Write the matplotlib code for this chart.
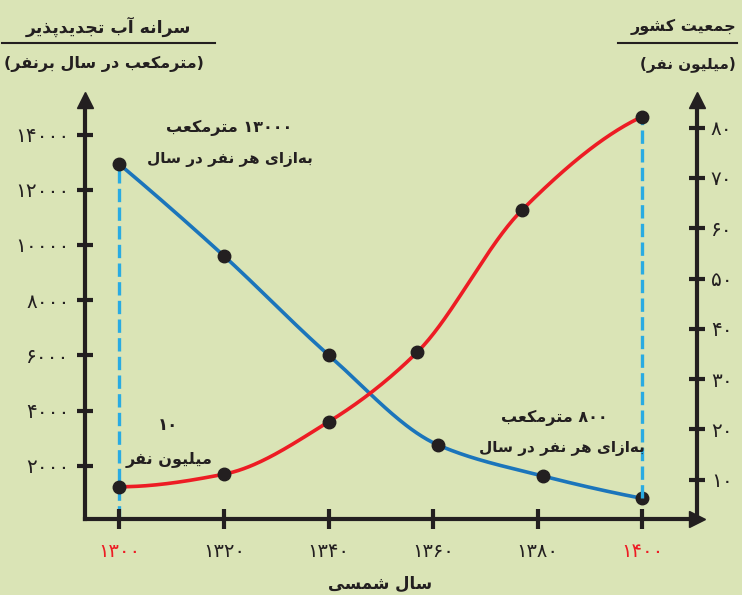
import re
import numpy as np
import matplotlib
matplotlib.use("Agg")
from matplotlib import pyplot as plt
from matplotlib.lines import Line2D

# data
blue_years = [1300, 1320, 1340, 1361, 1381, 1400]
water_per_capita = [12920, 9600, 6015, 2750, 1630, 820]      # m3 per person per year
red_years = [1300, 1320, 1340, 1357, 1377, 1400]
population = [8.6, 11.1, 21.5, 35.4, 63.6, 82.2]             # million people

x_ticks = [1300, 1320, 1340, 1360, 1380, 1400]
left_ticks = [2000, 4000, 6000, 8000, 10000, 12000, 14000]
right_ticks = [10, 20, 30, 40, 50, 60, 70, 80]

BG = '#dae4b6'
INK = '#231f20'
BLUE = '#1b75bb'
RED = '#ed1c24'
CYAN = '#29abe2'

# minimal persian shaping (isolated, final, initial, medial)
FORMS = {
    '\u0622': (0xFE81, 0xFE82, None, None),
    '\u0627': (0xFE8D, 0xFE8E, None, None),
    '\u0628': (0xFE8F, 0xFE90, 0xFE91, 0xFE92),
    '\u067E': (0xFB56, 0xFB57, 0xFB58, 0xFB59),
    '\u062A': (0xFE95, 0xFE96, 0xFE97, 0xFE98),
    '\u062C': (0xFE9D, 0xFE9E, 0xFE9F, 0xFEA0),
    '\u062F': (0xFEA9, 0xFEAA, None, None),
    '\u0630': (0xFEAB, 0xFEAC, None, None),
    '\u0631': (0xFEAD, 0xFEAE, None, None),
    '\u0632': (0xFEAF, 0xFEB0, None, None),
    '\u0633': (0xFEB1, 0xFEB2, 0xFEB3, 0xFEB4),
    '\u0634': (0xFEB5, 0xFEB6, 0xFEB7, 0xFEB8),
    '\u0639': (0xFEC9, 0xFECA, 0xFECB, 0xFECC),
    '\u0641': (0xFED1, 0xFED2, 0xFED3, 0xFED4),
    '\u06A9': (0xFB8E, 0xFB8F, 0xFB90, 0xFB91),
    '\u0644': (0xFEDD, 0xFEDE, 0xFEDF, 0xFEE0),
    '\u0645': (0xFEE1, 0xFEE2, 0xFEE3, 0xFEE4),
    '\u0646': (0xFEE5, 0xFEE6, 0xFEE7, 0xFEE8),
    '\u0647': (0xFEE9, 0xFEEA, 0xFEEB, 0xFEEC),
    '\u0648': (0xFEED, 0xFEEE, None, None),
    '\u06CC': (0xFBFC, 0xFBFD, 0xFBFE, 0xFBFF),
}
FA_DIGITS = str.maketrans('0123456789', '\u06F0\u06F1\u06F2\u06F3\u06F4\u06F5\u06F6\u06F7\u06F8\u06F9')


def shape(s):
    out = []
    for i, ch in enumerate(s):
        f = FORMS.get(ch)
        if f is None:
            out.append(ch)
            continue
        prev = s[i-1] if i > 0 else ''
        nxt = s[i+1] if i+1 < len(s) else ''
        join_prev = prev in FORMS and FORMS[prev][2] is not None
        join_next = f[2] is not None and nxt in FORMS
        if join_prev and join_next:
            code = f[3]
        elif join_prev:
            code = f[1]
        elif join_next:
            code = f[2]
        else:
            code = f[0]
        out.append(chr(code))
    return ''.join(out)


def fa(s):
    t = shape(s.translate(FA_DIGITS)).replace('\u200c', '')
    t = t[::-1]
    t = re.sub('[\u06F0-\u06F9]+', lambda m: m.group(0)[::-1], t)
    return t.translate(str.maketrans('()', ')('))


def pchip(x, y, n=300):
    x = np.asarray(x, float)
    y = np.asarray(y, float)
    h = np.diff(x)
    d = np.diff(y) / h
    m = np.zeros_like(y)
    for k in range(1, len(x)-1):
        if d[k-1]*d[k] > 0:
            w1 = 2*h[k] + h[k-1]
            w2 = h[k] + 2*h[k-1]
            m[k] = (w1 + w2) / (w1/d[k-1] + w2/d[k])

    def end(h0, h1, d0, d1):
        mm = ((2*h0 + h1)*d0 - h0*d1) / (h0 + h1)
        if np.sign(mm) != np.sign(d0):
            mm = 0.0
        elif np.sign(d0) != np.sign(d1) and abs(mm) > abs(3*d0):
            mm = 3*d0
        return mm
    m[0] = end(h[0], h[1], d[0], d[1])
    m[-1] = end(h[-1], h[-2], d[-1], d[-2])
    xs = np.linspace(x[0], x[-1], n)
    idx = np.clip(np.searchsorted(x, xs) - 1, 0, len(h)-1)
    t = (xs - x[idx]) / h[idx]
    h00 = 2*t**3 - 3*t**2 + 1
    h10 = t**3 - 2*t**2 + t
    h01 = -2*t**3 + 3*t**2
    h11 = t**3 - t**2
    ys = h00*y[idx] + h10*h[idx]*m[idx] + h01*y[idx+1] + h11*h[idx]*m[idx+1]
    return xs, ys


plt.rcParams['font.family'] = ['DejaVu Sans']
W, H = 742, 595
fig = plt.figure(figsize=(W/100, H/100), dpi=100, facecolor=BG)


def px(x, y):
    return x / W, 1 - y / H


ax = fig.add_axes([85/W, 1-519/H, (697-85)/W, 419/H])
ax.set_facecolor(BG)
ax2 = ax.twinx()
ax.set_xlim(1293.4, 1410.5)
ax.set_ylim(72, 15250)
ax2.set_ylim(2.19, 85.5)

for s in ['top', 'right']:
    ax.spines[s].set_visible(False)
for s in ['top', 'left', 'bottom']:
    ax2.spines[s].set_visible(False)
for sp in [ax.spines['left'], ax.spines['bottom'], ax2.spines['right']]:
    sp.set_linewidth(3)
    sp.set_color(INK)

ax.set_xticks(x_ticks)
ax.set_xticklabels([fa(str(v)) for v in x_ticks])
ax.set_yticks(left_ticks)
ax.set_yticklabels([fa(str(v)) for v in left_ticks])
ax2.set_yticks(right_ticks)
ax2.set_yticklabels([fa(str(v)) for v in right_ticks])
ax.tick_params(axis='x', direction='inout', length=15, width=3, color=INK,
               labelsize=14, pad=9, labelcolor=INK)
for lab, v in zip(ax.get_xticklabels(), x_ticks):
    lab.set_color(RED if v in (1300, 1400) else INK)
ax.tick_params(axis='y', direction='inout', length=12, width=3, color=INK,
               labelsize=14.5, pad=5, labelcolor=INK)
ax2.tick_params(axis='y', direction='inout', length=12, width=3, color=INK,
                labelsize=14.5, pad=4, labelcolor=INK)

# arrow heads
ax.plot(0, 1, '^', color=INK, markersize=11, transform=ax.transAxes, clip_on=False)
ax.plot(1, 0, '>', color=INK, markersize=11, transform=ax.transAxes, clip_on=False)
ax2.plot(1, 1, '^', color=INK, markersize=11, transform=ax2.transAxes, clip_on=False)

# dashed guides
ax.plot([1300, 1300], [72, water_per_capita[0]], color=CYAN, lw=2.4,
        dashes=(4, 1.6), zorder=1)
y_lo = ax2.transData.inverted().transform(
    ax.transData.transform((1400, water_per_capita[-1])))[1]
ax2.plot([1400, 1400], [y_lo, population[-1]], color=CYAN, lw=2.4,
         dashes=(4, 1.6), zorder=1)

xs, ys = pchip(blue_years, water_per_capita)
ax.plot(xs, ys, color=BLUE, lw=2.6, zorder=3)
ax.plot(blue_years, water_per_capita, 'o', color=INK, markersize=9, zorder=4)
xs, ys = pchip(red_years, population)
ax2.plot(xs, ys, color=RED, lw=2.6, zorder=3)
ax2.plot(red_years, population, 'o', color=INK, markersize=9, zorder=4)


def label(x, y, s, size):
    fig.text(*px(x, y), fa(s), ha='center', va='center', weight='bold',
             size=size, color=INK)


# titles
label(108, 27, 'سرانه آب تجدیدپذیر', 12.5)
label(104, 64, '(مترمکعب در سال برنفر)', 11.5)
fig.add_artist(Line2D([2/W, 215/W], [1-43/H, 1-43/H], color=INK, lw=1.5))
label(684, 27, 'جمعیت کشور', 11.5)
label(688, 64, '(میلیون نفر)', 11)
fig.add_artist(Line2D([618/W, 737/W], [1-43/H, 1-43/H], color=INK, lw=1.5))

# annotations
label(229, 128, '13000 مترمکعب', 11.5)
label(230, 160, 'به\u200cازای هر نفر در سال', 11)
label(554, 418, '800 مترمکعب', 11.5)
label(562, 448, 'به\u200cازای هر نفر در سال', 11)
label(168, 425, '10', 12)
label(169, 460, 'میلیون نفر', 11.5)
label(380, 584, 'سال شمسی', 12)

fig.savefig('out.png', dpi=100, facecolor=BG)
